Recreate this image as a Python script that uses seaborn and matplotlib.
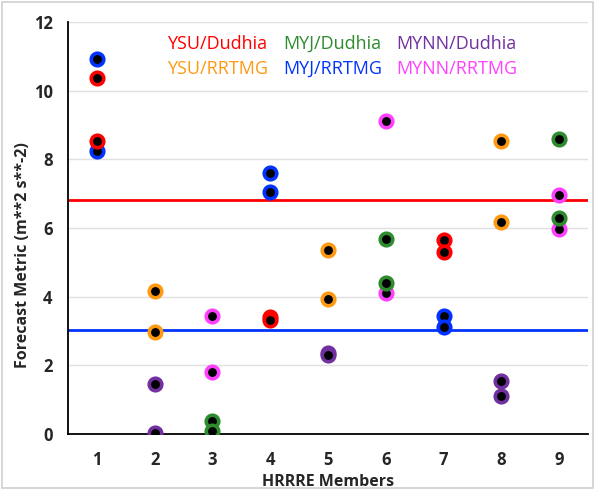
import numpy as np
import pandas as pd
import matplotlib
matplotlib.use("Agg")
import matplotlib.pyplot as plt
import seaborn as sns

# ---- data ----
members = [1, 2, 3, 4, 5, 6, 7, 8, 9]
series_names = ["YSU/Dudhia", "MYJ/Dudhia", "MYNN/Dudhia",
                "YSU/RRTMG", "MYJ/RRTMG", "MYNN/RRTMG"]
series_colors = ["#FF0000", "#2E8B2E", "#7030A0",
                 "#FF9912", "#0033FF", "#FF40FF"]

ysu_dudhia_x = [1, 1, 4, 4, 7, 7]
ysu_dudhia_y = [10.38, 8.52, 3.42, 3.32, 5.64, 5.30]
ysu_rrtmg_x = [2, 2, 5, 5, 8, 8]
ysu_rrtmg_y = [4.17, 2.98, 5.36, 3.94, 8.52, 6.17]
myj_dudhia_x = [3, 3, 6, 6, 9, 9]
myj_dudhia_y = [0.39, 0.10, 5.68, 4.40, 8.58, 6.28]
myj_rrtmg_x = [1, 1, 4, 4, 7, 7]
myj_rrtmg_y = [10.92, 8.25, 7.60, 7.04, 3.45, 3.13]
mynn_dudhia_x = [2, 2, 5, 5, 8, 8]
mynn_dudhia_y = [1.45, 0.02, 2.36, 2.30, 1.55, 1.12]
mynn_rrtmg_x = [3, 3, 6, 6, 9, 9]
mynn_rrtmg_y = [3.44, 1.80, 9.11, 4.10, 6.95, 5.98]

ysu_ref = 6.82
myj_ref = 3.03

series = {
    "YSU/Dudhia": (ysu_dudhia_x, ysu_dudhia_y),
    "MYJ/Dudhia": (myj_dudhia_x, myj_dudhia_y),
    "MYNN/Dudhia": (mynn_dudhia_x, mynn_dudhia_y),
    "YSU/RRTMG": (ysu_rrtmg_x, ysu_rrtmg_y),
    "MYJ/RRTMG": (myj_rrtmg_x, myj_rrtmg_y),
    "MYNN/RRTMG": (mynn_rrtmg_x, mynn_rrtmg_y),
}
color_of = dict(zip(series_names, series_colors))

# ---- figure ----
sns.set_style("white")
plt.rcParams['font.family'] = ['Open Sans', 'DejaVu Sans']

fig = plt.figure(figsize=(5.95, 4.9), dpi=100)
ax = fig.add_axes([68 / 595, 1 - 434 / 490, (588 - 68) / 595, (434 - 22) / 490])

# reference lines
ax.axhline(ysu_ref, color="#FF0000", lw=2, zorder=2)
ax.axhline(myj_ref, color="#0033FF", lw=2, zorder=2)

draw_order = ["MYNN/RRTMG", "MYNN/Dudhia", "MYJ/RRTMG", "MYJ/Dudhia",
              "YSU/RRTMG", "YSU/Dudhia"]
for name in draw_order:
    xs, ys = series[name]
    sns.scatterplot(x=xs, y=ys, ax=ax, color="black",
                    edgecolor=color_of[name], linewidth=2.6, s=81,
                    zorder=3, legend=False)

ax.set_xlim(0.5, 9.5)
ax.set_ylim(0, 12)
ax.set_yticks(np.arange(0, 13, 2))
ax.set_yticklabels([str(v) for v in range(0, 13, 2)], fontweight="bold", fontsize=12)
ax.set_xticks(members)
ax.set_xticklabels([str(m) for m in members], fontweight="bold", fontsize=12)
ax.set_xticks(np.arange(0.5, 10, 1), minor=True)
ax.tick_params(axis="x", which="major", length=0, pad=12)
ax.tick_params(axis="x", which="minor", length=5, width=1.2, color="black", direction="out")
ax.tick_params(axis="y", which="major", length=5, width=1.2, color="black", direction="out", pad=6)

ax.yaxis.grid(True, color="#E0E0E0", lw=1)
ax.set_axisbelow(True)
for s in ["top", "right"]:
    ax.spines[s].set_visible(False)
for s in ["left", "bottom"]:
    ax.spines[s].set_color("black")
    ax.spines[s].set_linewidth(1.3)

ax.set_xlabel("HRRRE Members", fontweight="bold", fontsize=11.5, labelpad=4)
ax.set_ylabel("Forecast Metric (m**2 s**-2)", fontweight="bold", fontsize=11.5, labelpad=6)
ax.yaxis.set_label_coords(-0.072, 0.435)

# legend as colored text
col_x = [167, 283, 396]
row_y = [44, 69]
for i, name in enumerate(series_names):
    r, c = divmod(i, 3)
    fig.text(col_x[c] / 595, 1 - row_y[r] / 490, name, color=color_of[name],
             fontsize=13, va="center", ha="left")

# light border around figure
fig.patches.append(plt.Rectangle((0.004, 0.004), 0.992, 0.992, transform=fig.transFigure,
                                 fill=False, edgecolor="#D0D0D0", lw=1.2))

fig.savefig("out.png", dpi=100)
